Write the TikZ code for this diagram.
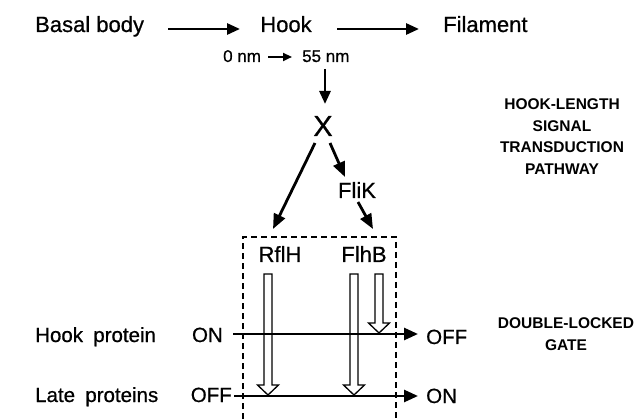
\documentclass[tikz,border=0pt]{standalone}
\usepackage{fontspec}
\setmainfont{Liberation Sans}
\newfontfamily\heavyfont{Liberation Sans}[FakeBold=0.7]
\usetikzlibrary{arrows.meta}
\begin{document}
\begin{tikzpicture}[x=1pt,y=-1pt,
  lbl/.style={inner sep=0pt, anchor=base, font=\heavyfont\fontsize{22}{26}\selectfont},
  midlbl/.style={inner sep=0pt, anchor=base, font=\heavyfont\fontsize{20.5}{24}\selectfont},
  smalllbl/.style={inner sep=0pt, anchor=base west, font=\heavyfont\fontsize{17}{20}\selectfont},
  biglbl/.style={inner sep=0pt, anchor=base, font=\heavyfont\fontsize{29}{32}\selectfont},
  caplbl/.style={inner sep=0pt, anchor=base, font=\fontsize{15.5}{18}\selectfont\bfseries},
  arr/.style={line width=2.8pt, -{Triangle[length=13pt,width=11pt]}},
  bigarr/.style={line width=2.8pt, -{Triangle[length=15pt,width=12pt]}},
  smallarr/.style={line width=2.2pt, -{Triangle[length=9pt,width=8pt]}},
  gatebox/.style={line width=1.3pt, dash pattern=on 6pt off 4pt},
  hollow/.style={line width=1.3pt, line join=miter},
]
\useasboundingbox[fill=white] (0,0) rectangle (642,419);

% top row
\node[lbl, anchor=base west] (basal) at (35,32) {Basal body};
\node[lbl] (hook) at (286,32) {Hook};
\node[lbl, anchor=base west] (fil) at (443,32) {Filament};
\coordinate (b1) at (168,29); \coordinate (b2) at (240,29);
\coordinate (h1) at (337,29); \coordinate (h2) at (419,29);
\draw[arr] (b1) -- (b2);
\draw[arr] (h1) -- (h2);

\node[smalllbl] (nm0) at (223,62) {0 nm};
\node[smalllbl] (nm55) at (302,62) {55 nm};
\coordinate (s1) at (268,57); \coordinate (s2) at (292,57);
\draw[smallarr] (s1) -- (s2);

\coordinate (d1) at (325,69); \coordinate (d2) at (325,104);
\draw[arr] (d1) -- (d2);

\node[biglbl] (xx) at (323,136) {X};
\node[lbl] (flik) at (357,198) {FliK};
\coordinate (xl) at (315,143); \coordinate (xle) at (273,229);
\coordinate (xr) at (330,143); \coordinate (xre) at (345,177);
\coordinate (fk) at (358,202); \coordinate (fke) at (373,229);
\draw[bigarr] (xl) -- (xle);
\draw[bigarr] (xr) -- (xre);
\draw[bigarr] (fk) -- (fke);

% right captions
\node[caplbl] (hl1) at (562,110) {HOOK-LENGTH};
\node[caplbl] (hl2) at (562,131.5) {SIGNAL};
\node[caplbl] (hl3) at (562,153) {TRANSDUCTION};
\node[caplbl] (hl4) at (562,174.5) {PATHWAY};
\node[caplbl] (dl1) at (566,328) {DOUBLE-LOCKED};
\node[caplbl] (dl2) at (566,350) {GATE};

% gate box
\draw[gatebox] (243,419) -- (243,237) -- (396,237) -- (396,419);
\node[lbl] (rflh) at (280,262) {RflH};
\node[lbl] (flhb) at (364,262) {FlhB};

% hollow arrows
\foreach \x/\tip in {268/395, 354/395, 379/333}{
  \draw[hollow] (\x-4,274) -- (\x-4,\tip-10) -- (\x-10.5,\tip-10) -- (\x,\tip)
     -- (\x+10.5,\tip-10) -- (\x+4,\tip-10) -- (\x+4,274) -- cycle;
}

% gate lines
\node[midlbl, anchor=base west] (hp) at (35,342) {Hook\hspace{0.5em}protein};
\node[midlbl, anchor=base west] (lp) at (35,402) {Late\hspace{0.5em}proteins};
\node[midlbl, anchor=base east] (on1) at (223,342) {ON};
\node[midlbl, anchor=base east] (off1) at (232,402) {OFF};
\node[midlbl, anchor=base west] (off2) at (426,344) {OFF};
\node[midlbl, anchor=base west] (on2) at (426,403) {ON};
\coordinate (hs) at (233,334); \coordinate (he) at (418,334);
\coordinate (ls) at (234,396); \coordinate (le) at (418,396);
\draw[line width=2.7pt, -{Triangle[length=14pt,width=12pt]}] (hs) -- (he);
\draw[line width=2.7pt, -{Triangle[length=14pt,width=12pt]}] (ls) -- (le);
\end{tikzpicture}
\end{document}
